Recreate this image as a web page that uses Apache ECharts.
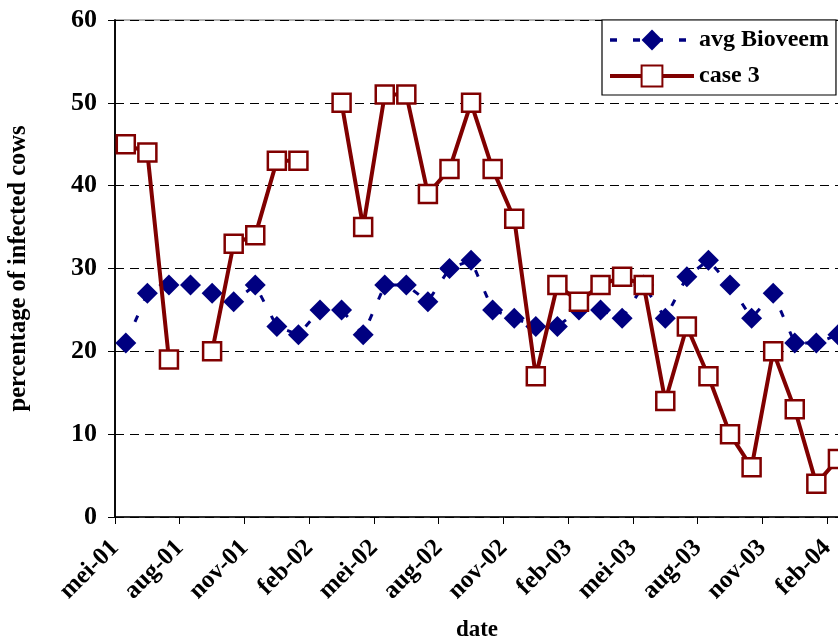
<!DOCTYPE html>
<html><head><meta charset="utf-8">
<script src="https://cdn.jsdelivr.net/npm/echarts@6/dist/echarts.min.js"></script>
<style>html,body{margin:0;padding:0;background:#fff}#c{width:838px;height:637px}</style>
</head><body><div id="c"></div>
<script>
// monthly sampling dates (one point per month)
const months = ['mei-01','jun-01','jul-01','aug-01','sep-01','okt-01','nov-01','dec-01',
  'jan-02','feb-02','mrt-02','apr-02','mei-02','jun-02','jul-02','aug-02','sep-02','okt-02','nov-02','dec-02',
  'jan-03','feb-03','mrt-03','apr-03','mei-03','jun-03','jul-03','aug-03','sep-03','okt-03','nov-03','dec-03',
  'jan-04','feb-04'];
const tickLabels = ['mei-01','aug-01','nov-01','feb-02','mei-02','aug-02','nov-02','feb-03','mei-03','aug-03','nov-03','feb-04'];
const avgBioveem = [21,27,28,28,27,26,28,23,22,25,25,22,28,28,26,30,31,25,24,23,23,25,25,24,28,24,29,31,28,24,27,21,21,22];
const case3 = [45,44,19,null,20,33,34,43,43,null,50,35,51,51,39,42,50,42,36,17,28,26,28,29,28,14,23,17,10,6,20,13,4,7];

const FONT = '"Liberation Serif","Times New Roman",serif';
const toPts = arr => months.map((m, i) => [i + 0.5, arr[i]]);

const chart = echarts.init(document.getElementById('c'), null, {renderer: 'canvas'});
const yBase = {
  type: 'value', min: 0, max: 60, interval: 10, position: 'left',
  axisLine: {show: true, lineStyle: {color: '#000', width: 1.5}}
};
chart.setOption({
  animation: false,
  backgroundColor: '#fff',
  grid: {left: 115, right: -1, top: 20, bottom: 120, show: true, borderColor: '#9a9a9a', borderWidth: 1.5,
         containLabel: false, outerBoundsMode: 'none'},
  legend: {
    orient: 'vertical', left: 602, top: 20,
    itemWidth: 84, itemHeight: 26, itemGap: 12,
    padding: [8, 7, 7, 6],
    borderColor: '#000', borderWidth: 1.2, backgroundColor: '#fff',
    textStyle: {fontFamily: FONT, fontWeight: 'bold', fontSize: 24, color: '#000'},
    data: [
      {name: 'avg Bioveem', lineStyle: {width: 3.5}},
      {name: 'case 3', lineStyle: {width: 4}}
    ]
  },
  xAxis: {
    type: 'value', min: 0, max: 33.55, interval: 3,
    name: 'date', nameLocation: 'middle', nameGap: 102,
    nameTextStyle: {fontFamily: FONT, fontWeight: 'bold', fontSize: 23, color: '#000'},
    axisLine: {show: true, lineStyle: {color: '#000', width: 1.5}},
    axisTick: {show: true, inside: false, length: 7, lineStyle: {color: '#000', width: 1}},
    splitLine: {show: false},
    axisLabel: {
      rotate: 45, margin: 27, showMaxLabel: false,
      fontFamily: FONT, fontWeight: 'bold', fontSize: 25, color: '#000',
      formatter: v => (Math.abs(v / 3 - Math.round(v / 3)) < 1e-6 ? (tickLabels[Math.round(v / 3)] || '') : '')
    }
  },
  yAxis: [
    Object.assign({}, yBase, {
      name: 'percentage of infected cows', nameLocation: 'middle', nameGap: 84,
      nameTextStyle: {fontFamily: FONT, fontWeight: 'bold', fontSize: 24.5, color: '#000'},
      axisTick: {show: true, inside: false, length: 7, lineStyle: {color: '#000', width: 1}},
      axisLabel: {fontFamily: FONT, fontWeight: 'bold', fontSize: 26, color: '#000', margin: 18},
      splitLine: {show: true, lineStyle: {color: '#000', width: 1, type: [9, 6]}}
    }),
    Object.assign({}, yBase, {
      axisTick: {show: true, inside: true, length: 6, lineStyle: {color: '#000', width: 1}},
      axisLabel: {show: false},
      splitLine: {show: false}
    })
  ],
  series: [
    {
      name: 'avg Bioveem', type: 'line', data: toPts(avgBioveem),
      symbol: 'diamond', symbolSize: 21,
      itemStyle: {color: '#000080'},
      lineStyle: {color: '#000080', width: 3, type: [7, 16]},
      z: 2
    },
    {
      name: 'case 3', type: 'line', data: toPts(case3),
      symbol: 'rect', symbolSize: 18,
      itemStyle: {color: '#fff', borderColor: '#800000', borderWidth: 2.5},
      lineStyle: {color: '#800000', width: 4},
      z: 3
    }
  ]
});
</script></body></html>
